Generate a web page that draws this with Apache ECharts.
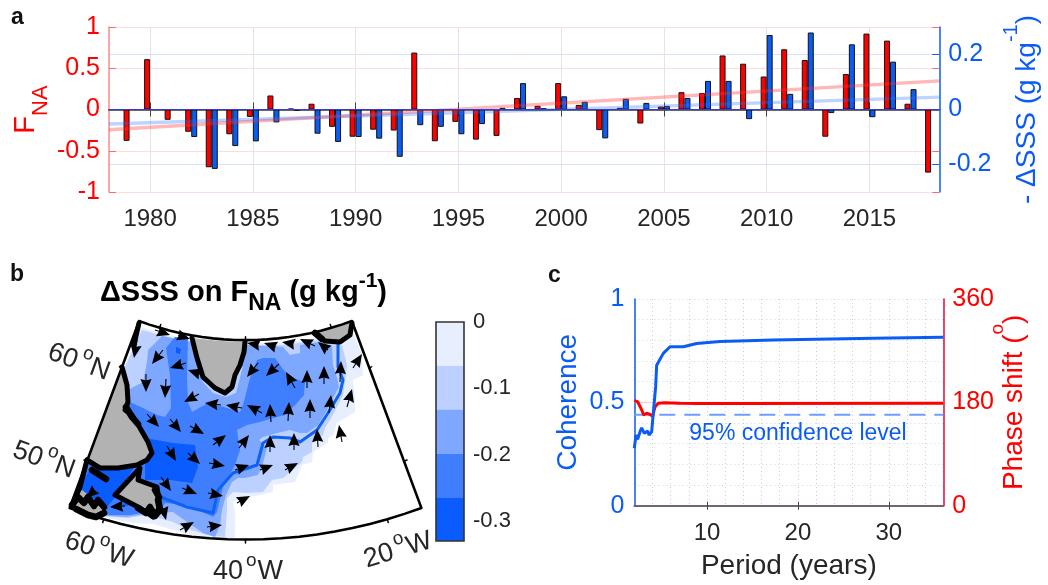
<!DOCTYPE html>
<html><head><meta charset="utf-8">
<style>html,body{margin:0;padding:0;background:#fff}#c{width:1048px;height:585px}</style>
<script src="https://cdn.jsdelivr.net/npm/echarts@6/dist/echarts.min.js"></script>
</head><body><div id="c"></div>
<script>
// ---------- Panel a data ----------
const years = [1979,1980,1981,1982,1983,1984,1985,1986,1987,1988,1989,1990,1991,1992,1993,1994,1995,1996,1997,1998,1999,2000,2001,2002,2003,2004,2005,2006,2007,2008,2009,2010,2011,2012,2013,2014,2015,2016,2017,2018];
const fna = [-0.38,0.61,-0.125,-0.27,-0.70,-0.30,-0.09,0.17,0.01,0.07,-0.21,-0.33,-0.245,-0.255,0.69,-0.385,-0.15,-0.365,-0.32,0.14,0.045,0.32,0.056,-0.25,0.02,-0.17,0.036,0.21,0.20,0.655,0.555,0.40,0.73,0.60,-0.33,0.43,0.92,0.835,0.07,-0.765];
const dsss = [null,null,null,-0.10,-0.216,-0.133,-0.116,-0.047,-0.005,-0.088,-0.118,-0.10,-0.106,-0.172,-0.057,-0.063,-0.09,-0.053,0.006,0.096,0.005,0.048,0.028,-0.105,0.039,0.024,0.013,0.042,0.104,0.104,-0.035,0.271,0.057,0.28,-0.013,0.237,-0.028,0.174,0.074,null];
const trendYears = [1978,2018.4];
const fnaTrend = [-0.245,0.347];
const dsssTrend = [-0.053,0.045];
const yearTicks = [1980,1985,1990,1995,2000,2005,2010,2015];
const fnaTicks = [-1,-0.5,0,0.5,1];
const dsssTicks = [-0.2,0,0.2];
// ---------- Panel c data ----------
const cohPeriod = [2,2.19,2.37,2.63,2.81,3.1,3.47,3.62,3.91,4.09,4.35,4.46,5.19,5.93,7.39,8.86,11.43,17.3,28.3,36];
const coherence = [0.278,0.342,0.321,0.358,0.377,0.35,0.361,0.342,0.358,0.355,0.576,0.68,0.737,0.769,0.769,0.785,0.794,0.802,0.81,0.815];
const phasePeriod = [2,2.37,2.81,3.03,3.36,3.73,4.02,4.28,4.64,5.37,7,9,13.6,36];
const phase = [183,181,167,158,161,159,156,172,178.3,179.4,178.4,178,178,178.5];
const confidence = 0.44;
const periodTicks = [10,20,30];
const cohTicks = [0,0.5,1];
const phaseTicks = [0,180,360];
// ---------- Panel b data (map-plane units) ----------
const level0 = [[141,327],[160,333],[190,340],[247,343],[283,343],[317,338],[350,325],[362,355],[363,375],[353,380],[355,398],[355,412],[337,423],[333,435],[328,438],[328,443],[313,452],[312,462],[302,465],[295,482],[273,485],[273,492],[260,495],[248,497],[233,502],[235,513],[235,539],[190,535],[173,530],[153,524],[133,523],[103,517],[73,507],[85,462],[124,367]];
const level1 = [[142,330],[160,335],[190,342],[247,345],[283,345],[320,340],[342,345],[347,365],[345,382],[343,395],[333,415],[325,428],[323,435],[312,443],[312,452],[303,457],[302,462],[283,478],[272,480],[263,492],[247,493],[233,492],[227,498],[227,510],[225,537],[207,535],[185,528],[173,522],[147,515],[128,518],[100,516],[75,505],[87,462],[125,367]];
const level2 = [[162,336],[192,342],[247,345],[283,347],[290,355],[300,353],[300,345],[320,342],[332,347],[333,365],[337,378],[339,387],[333,398],[327,410],[318,425],[307,433],[300,433],[290,430],[277,433],[263,437],[259,440],[267,448],[262,467],[258,475],[245,478],[238,478],[232,482],[226,495],[222,510],[220,525],[215,537],[203,533],[187,522],[173,512],[150,513],[127,517],[95,515],[75,505],[85,462],[120,395],[128,390],[143,382],[147,362],[148,350]];
const halo = [[201,380],[213,393],[226,397],[236,393],[243,366],[236,372],[230,390],[215,388]];
const level3 = [[175,337],[166,348],[170,375],[171,408],[165,417],[157,415],[143,408],[132,403],[128,402],[120,420],[85,465],[78,505],[95,515],[130,515],[160,510],[165,503],[187,505],[213,517],[217,512],[223,487],[235,465],[240,450],[237,430],[247,425],[260,422],[273,418],[285,415],[297,403],[304,395],[305,382],[293,378],[285,372],[275,358],[263,358],[257,360],[250,378],[243,405],[240,412],[227,408],[208,403],[192,412],[188,402],[187,378],[188,338]];
const level4a = [[145,438],[173,443],[195,445],[198,467],[192,483],[170,480],[160,480],[145,480]];
const level4b = [[90,470],[135,466],[117,495],[107,507],[93,510],[73,503],[82,482]];
const level4c = [[176,347],[181,349],[180,354],[176,353]];
const greenland = [[192,338],[197,358],[203,377],[215,388],[225,393],[232,387],[235,375],[240,365],[244,352],[245,342],[220,341]];
const iceland = [[315,333],[325,341],[340,342],[350,335],[352,322],[330,327]];
const canada = [[122,367],[127,385],[128,402],[125,410],[132,415],[140,428],[148,442],[152,453],[147,460],[137,465],[118,468],[100,468],[87,460]];
const newfoundland = [[115,495],[140,468],[138,480],[157,487],[160,507],[153,517],[140,508]];
const novaScotia = [[72,505],[75,495],[82,490],[95,500],[105,505],[105,512],[95,518],[88,516],[72,508]];
const coastThin = [
  [[192,338],[197,358],[203,377],[215,388],[225,393],[232,387],[235,375],[240,365],[244,352],[245,342]],
  [[325,341],[340,342],[350,335],[352,323]],
  [[122,367],[127,385],[128,402],[125,410],[132,415],[140,428],[148,442],[152,453],[147,460],[137,465],[118,468],[100,468],[87,460]],
  [[115,495],[140,468],[138,480],[157,487],[160,507],[153,517],[140,508],[115,495]],
  [[139,323],[134,345]],
  [[87,460],[80,487],[73,503]]
];
const coastThick = [
  [[315,333],[322,339]],
  [[92,470],[106,479]],
  [[72,505],[78,497],[84,503],[88,497],[94,506],[98,500],[104,507]],
  [[76,509],[88,515],[96,517],[104,513]],
  [[138,508],[146,513],[150,507],[155,516],[160,510],[158,500]],
  [[126,407],[132,417],[138,424]],
  [[155,490],[159,497]]
];
const flowLine = [[163,498],[187,507],[213,513],[218,490],[233,473],[257,465],[263,443],[273,437],[290,438],[300,442],[317,430],[328,413],[340,393],[343,380],[338,367],[338,343]];
const flowLine2 = [[113,507],[133,503]];
const arrows = [[137,340,134,358],[163,350,152,364],[186,363,170,368],[146,374,146,392],[166,379,165,398],[199,394,184,402],[221,405,205,403],[242,408,226,405],[147,414,159,427],[170,419,181,432],[190,426,204,434],[203,375,188,370],[155,330,170,335],[178,335,190,339],[258,363,247,377],[279,364,266,376],[295,388,286,372],[307,388,307,370],[324,384,324,366],[340,382,341,361],[353,368,362,354],[262,413,247,405],[271,422,270,404],[288,421,289,402],[310,418,310,399],[329,413,331,395],[347,407,352,389],[258,345,247,343],[276,347,264,343],[293,344,282,342],[315,346,300,339],[328,350,318,342],[167,446,176,461],[188,453,200,464],[209,463,225,466],[235,470,249,465],[213,445,226,435],[239,448,249,435],[161,477,171,491],[182,488,197,494],[208,493,223,496],[237,503,250,496],[163,508,166,520],[180,530,194,522],[207,527,222,525],[125,506,110,507],[95,490,86,498],[270,452,270,435],[294,450,294,433],[318,447,317,429],[342,442,339,425],[260,470,273,465],[285,470,298,463]];
const frameLon = [-65,-15];
const frameLat = [45,65];
const lonTicks = [-60,-40,-20];
const latTicks = [50,60];
// ---------- Colour bar ----------
const barStep = [-0.066,-0.066,-0.066,-0.066,-0.066];
const barColors = ['#e7efff','#bcd1ff','#7ea7ff','#3f7fff','#0a5cff'];
const barTicks = [0,-0.1,-0.2,-0.3];

const RED='#ff0000', BLUE='#0b5cf5', DARK='#262626', FONT='Liberation Sans';

function proj(lon,lat){
  const r=355+(60-lat)*9.97, t=0.816*(lon+40)*Math.PI/180;
  return [245.5+r*Math.sin(t),35+r*Math.cos(t)];
}
const framePts=[];
for(let i=0;i<=20;i++) framePts.push(proj(frameLon[0]+(frameLon[1]-frameLon[0])*i/20,frameLat[0]));
for(let i=0;i<=20;i++) framePts.push(proj(frameLon[1]-(frameLon[1]-frameLon[0])*i/20,frameLat[1]));
framePts.push(framePts[0]);
const tickSegs=[];
lonTicks.forEach(l=>{tickSegs.push([proj(l,frameLat[0]),proj(l,frameLat[0]-0.35)]);tickSegs.push([proj(l,frameLat[1]),proj(l,frameLat[1]+0.35)]);});
latTicks.forEach(l=>{tickSegs.push([proj(frameLon[0],l),proj(frameLon[0]-0.5,l)]);tickSegs.push([proj(frameLon[1],l),proj(frameLon[1]+0.5,l)]);});

function polys(name,list,fill){
  return {type:'custom',name,xAxisIndex:5,yAxisIndex:6,silent:true,
    data:list.map(p=>p[0]),
    renderItem:(params,api)=>({type:'polygon',shape:{points:list[params.dataIndex].map(p=>api.coord(p))},
      style:{fill}})};
}
function lines(name,list,stroke,sw){
  return {type:'custom',name,xAxisIndex:5,yAxisIndex:6,silent:true,
    data:list.map(p=>p[0]),
    renderItem:(params,api)=>({type:'polyline',shape:{points:list[params.dataIndex].map(p=>api.coord(p))},
      style:{fill:null,stroke,lineWidth:sw,lineJoin:'round',lineCap:'round'}})};
}
const arrowSeries={type:'custom',name:'Flow',xAxisIndex:5,yAxisIndex:6,silent:true,
  data:arrows.map(a=>[a[0],a[1]]),
  renderItem:(params,api)=>{
    const a=arrows[params.dataIndex],t=api.coord([a[0],a[1]]),h=api.coord([a[2],a[3]]);
    const dx=h[0]-t[0],dy=h[1]-t[1],L=Math.hypot(dx,dy)||1,ux=dx/L,uy=dy/L,px=-uy,py=ux;
    const hl=13,hw=5.6;
    return {type:'group',children:[
      {type:'line',shape:{x1:t[0],y1:t[1],x2:h[0]-ux*6,y2:h[1]-uy*6},style:{stroke:'#000',lineWidth:1.1}},
      {type:'polygon',shape:{points:[h,
        [h[0]-ux*hl+px*hw,h[1]-uy*hl+py*hw],
        [h[0]-ux*(hl-1.5),h[1]-uy*(hl-1.5)],
        [h[0]-ux*hl-px*hw,h[1]-uy*hl-py*hw]]},style:{fill:'#000'}}
    ]};
  }};
const mapText=(t,x,y,deg)=>({type:'text',x,y,rotation:deg*Math.PI/180,z:10,silent:true,
  style:{text:t,align:'center',verticalAlign:'middle',fill:DARK,font:'27px "Liberation Sans"',
    rich:{a:{fontSize:27,fontFamily:FONT,fill:DARK,verticalAlign:'bottom',lineHeight:34},s:{fontSize:19,fontFamily:FONT,fill:DARK,verticalAlign:'top',lineHeight:34,padding:[0,1,0,3]}}}});

const gridBase={outerBoundsMode:'none',containLabel:false};
const panelTitle=(text,left,top)=>({text,left,top,padding:0,textStyle:{fontSize:23,fontWeight:'bold',color:'#111',fontFamily:FONT}});
const option={
  animation:false,backgroundColor:'#fff',
  textStyle:{fontFamily:FONT},
  grid:[
    {...gridBase,left:109,top:27,width:830.3,height:165},
    {...gridBase,left:634.3,top:299,width:309,height:206.7},
    {...gridBase,left:0,top:260,width:520,height:325},
    {...gridBase,left:436,top:322,width:28,height:219}
  ],
  title:[
    panelTitle('a',11,6),
    panelTitle('b',10,263),
    panelTitle('c',548,264),
    {text:'{a|ΔSSS on F}{b|NA}{a| (g kg}{c|-1}{a|)}',left:100,top:271,padding:0,textStyle:{fontFamily:FONT,rich:{
      a:{fontSize:29,fontWeight:'bold',fontFamily:FONT,color:'#000',verticalAlign:'bottom',lineHeight:44,padding:[0,0,8,0]},
      b:{fontSize:23,fontWeight:'bold',fontFamily:FONT,color:'#000',verticalAlign:'bottom',lineHeight:44},
      c:{fontSize:21,fontWeight:'bold',fontFamily:FONT,color:'#000',verticalAlign:'top',lineHeight:44}}}}
  ],
  xAxis:[
    {gridIndex:0,type:'value',min:1978,max:2018.4,position:'bottom',
      axisLine:{show:true,lineStyle:{color:'#666',width:2}},
      axisTick:{show:true,inside:true,length:7,customValues:yearTicks,lineStyle:{color:'#444'}},
      axisLabel:{show:true,customValues:yearTicks,formatter:v=>String(v),color:DARK,fontSize:24,margin:15,fontFamily:FONT},
      splitLine:{show:true,lineStyle:{color:'#e4e4e4',width:1}}},
    {gridIndex:0,type:'value',min:1978,max:2018.4,position:'top',
      axisLine:{show:true,lineStyle:{color:'#666',width:2}},
      axisTick:{show:true,inside:true,length:7,customValues:yearTicks,lineStyle:{color:'#444'}},
      axisLabel:{show:false},splitLine:{show:false}},
    {gridIndex:1,type:'value',min:2,max:36,position:'bottom',
      name:'Period (years)',nameLocation:'middle',nameGap:47,nameTextStyle:{color:DARK,fontSize:28,fontFamily:FONT},
      axisLine:{show:true,lineStyle:{color:'#6b5b6b',width:1.5}},
      axisTick:{show:true,inside:true,length:4,customValues:periodTicks,lineStyle:{color:'#444'}},
      axisLabel:{show:true,customValues:periodTicks,color:DARK,fontSize:24,margin:16,fontFamily:FONT},
      splitLine:{show:false}},
    {gridIndex:1,type:'value',min:2,max:36,position:'top',
      axisLine:{show:true,lineStyle:{color:'#6b5b6b',width:1.5}},
      axisTick:{show:true,inside:true,length:4,customValues:periodTicks,lineStyle:{color:'#444'}},
      axisLabel:{show:false},splitLine:{show:false}},
    {gridIndex:1,type:'value',min:2,max:36,interval:2,position:'bottom',
      axisLine:{show:false},axisTick:{show:false},axisLabel:{show:false},
      splitLine:{show:true,lineStyle:{color:'#c9ccd2',type:[1,3],width:1}}},
    {gridIndex:2,type:'value',min:0,max:520,show:false},
    {gridIndex:3,type:'category',data:['c'],show:false}
  ],
  yAxis:[
    {gridIndex:0,type:'value',min:-1,max:1,position:'left',
      axisLine:{show:true,lineStyle:{color:'#ff8a8a',width:1.5}},
      axisTick:{show:true,inside:true,length:7,customValues:fnaTicks,lineStyle:{color:'#ff6a6a'}},
      axisLabel:{show:true,customValues:fnaTicks,color:RED,fontSize:25,margin:9,fontFamily:FONT},
      splitLine:{show:true,lineStyle:{color:'#ffdcdc',width:1}},
      name:'{f|F}{n|NA}',nameLocation:'middle',nameRotate:90,nameGap:57,nameMoveOverlap:false,
      nameTextStyle:{rich:{f:{fontSize:29,fontFamily:FONT,color:RED,verticalAlign:'bottom',padding:[0,0,12,0],lineHeight:30},n:{fontSize:22,fontFamily:FONT,color:RED,verticalAlign:'bottom',lineHeight:30}}}},
    {gridIndex:0,type:'value',min:-0.3,max:0.3,position:'right',
      axisLine:{show:true,lineStyle:{color:BLUE,width:1.5}},
      axisTick:{show:true,inside:true,length:7,customValues:dsssTicks,lineStyle:{color:BLUE}},
      axisLabel:{show:true,customValues:dsssTicks,color:BLUE,fontSize:25,margin:9,fontFamily:FONT},
      splitLine:{show:true,lineStyle:{color:'#d5e2ff',width:1}},
      name:'{a|- ΔSSS (g kg}{s|-1}{a|)}',nameLocation:'middle',nameRotate:90,nameGap:62,nameMoveOverlap:false,
      nameTextStyle:{rich:{a:{fontSize:28,fontFamily:FONT,color:BLUE,verticalAlign:'bottom',lineHeight:40},s:{fontSize:20,fontFamily:FONT,color:BLUE,verticalAlign:'top',lineHeight:40}}}},
    {gridIndex:0,type:'value',min:-1,max:1,position:'right',
      axisLine:{show:false},axisTick:{show:true,inside:true,length:7,customValues:fnaTicks.filter(v=>v!==0),lineStyle:{color:'#ff6a6a'}},
      axisLabel:{show:false},splitLine:{show:false}},
    {gridIndex:1,type:'value',min:0,max:1,position:'left',
      axisLine:{show:true,lineStyle:{color:BLUE,width:1.5}},
      axisTick:{show:false,customValues:cohTicks},
      axisLabel:{show:true,customValues:cohTicks,color:BLUE,fontSize:25,margin:10,fontFamily:FONT},
      splitLine:{show:false},
      name:'Coherence',nameLocation:'middle',nameRotate:90,nameGap:52,nameMoveOverlap:false,nameTextStyle:{color:BLUE,fontSize:28,fontFamily:FONT}},
    {gridIndex:1,type:'value',min:0,max:360,position:'right',
      axisLine:{show:true,lineStyle:{color:'#d8103c',width:1.5}},
      axisTick:{show:false,customValues:phaseTicks},
      axisLabel:{show:true,customValues:phaseTicks,color:RED,fontSize:25,margin:9,fontFamily:FONT},
      splitLine:{show:false},
      name:'{a|Phase shift (}{s|o}{a|)}',nameLocation:'middle',nameRotate:90,nameGap:45,nameMoveOverlap:false,
      nameTextStyle:{rich:{a:{fontSize:28,fontFamily:FONT,color:RED,verticalAlign:'bottom',lineHeight:40},s:{fontSize:19,fontFamily:FONT,color:RED,verticalAlign:'top',lineHeight:40}}}},
    {gridIndex:1,type:'value',min:0,max:1,interval:0.1,position:'left',
      axisLine:{show:false},axisTick:{show:false},axisLabel:{show:false},
      splitLine:{show:true,lineStyle:{color:'#c9d6ee',type:[1,3],width:1}}},
    {gridIndex:2,type:'value',min:260,max:585,inverse:true,show:false},
    {gridIndex:3,type:'value',min:-0.33,max:0,position:'right',
      axisLine:{show:false},
      axisTick:{show:true,inside:true,length:3,customValues:barTicks,lineStyle:{color:'#333'}},
      axisLabel:{show:true,customValues:barTicks,color:DARK,fontSize:22,margin:9,fontFamily:FONT},
      splitLine:{show:false}}
  ],
  series:[
    {type:'bar',name:'FNA',xAxisIndex:0,yAxisIndex:0,barWidth:6,barGap:'0%',data:years.map((y,i)=>[y,fna[i]]),
      itemStyle:{color:RED,borderColor:'#111',borderWidth:1}},
    {type:'bar',name:'-dSSS',xAxisIndex:0,yAxisIndex:1,barWidth:6,barGap:'0%',data:years.map((y,i)=>[y,dsss[i]===null?'-':dsss[i]]),
      itemStyle:{color:BLUE,borderColor:'#111',borderWidth:1}},
    {type:'line',name:'FNA trend',xAxisIndex:0,yAxisIndex:0,symbol:'none',data:trendYears.map((y,i)=>[y,fnaTrend[i]]),lineStyle:{color:'#ff3030',width:3.5,opacity:0.35}},
    {type:'line',name:'dSSS trend',xAxisIndex:0,yAxisIndex:1,symbol:'none',data:trendYears.map((y,i)=>[y,dsssTrend[i]]),lineStyle:{color:'#2a6cff',width:3.5,opacity:0.3}},
    {type:'line',name:'zero',xAxisIndex:0,yAxisIndex:0,symbol:'none',data:trendYears.map(y=>[y,0]),lineStyle:{color:'#3a3ad8',width:1}},
    // panel c
    {type:'line',name:'pink',xAxisIndex:2,yAxisIndex:3,symbol:'none',data:[[2,0.5],[36,0.5]],lineStyle:{color:'#f3c8d8',width:1}},
    {type:'line',name:'95%',xAxisIndex:2,yAxisIndex:3,symbol:'none',data:[[2,confidence],[36,confidence]],lineStyle:{color:'#6f9dff',width:2,type:[16,9]}},
    {type:'line',name:'Phase',xAxisIndex:2,yAxisIndex:4,symbol:'none',data:phasePeriod.map((p,i)=>[p,phase[i]]),lineStyle:{color:RED,width:3}},
    {type:'line',name:'Coherence',xAxisIndex:2,yAxisIndex:3,symbol:'none',data:cohPeriod.map((p,i)=>[p,coherence[i]]),lineStyle:{color:BLUE,width:3}},
    // panel b
    polys('c0',[level0],barColors[0]),
    polys('c1',[level1],barColors[1]),
    polys('c2',[level2],barColors[2]),
    polys('c3',[level3],barColors[3]),
    polys('c4',[level4a,level4b,level4c],barColors[4]),
    polys('halo',[halo],barColors[1]),
    lines('flow',[flowLine,flowLine2],'#0f60f5',3),
    polys('land',[greenland,iceland,canada,newfoundland,novaScotia],'#b2b2b2'),
    lines('coast',coastThin,'#000',5),
    lines('coast2',coastThick,'#000',6.5),
    arrowSeries,
    lines('frame',[framePts],'#000',2.6),
    lines('ticks',tickSegs,'#000',1.5),
    // colour bar
    ...barStep.map((v,i)=>({type:'bar',name:'cb'+i,stack:'cb',xAxisIndex:6,yAxisIndex:7,barWidth:'100%',data:[v],itemStyle:{color:barColors[i]}}))
  ],
  graphic:[
    {type:'text',x:798,y:434,z:10,silent:true,style:{text:'95% confidence level',align:'center',verticalAlign:'middle',fill:BLUE,font:'23px "Liberation Sans"'}},
    {type:'rect',z:10,silent:true,shape:{x:436,y:322,width:28,height:219},style:{fill:null,stroke:'#333',lineWidth:1.6}},
    mapText('{a|60}{s|o}{a|N}',80,359,-20),
    mapText('{a|50}{s|o}{a|N}',45,457,-20),
    mapText('{a|60}{s|o}{a|W}',100,547,-17),
    mapText('{a|40}{s|o}{a|W}',248,568,0),
    mapText('{a|20}{s|o}{a|W}',397,547,17)
  ]
};
echarts.init(document.getElementById('c'),null,{renderer:'canvas',width:1048,height:585}).setOption(option);
</script></body></html>
